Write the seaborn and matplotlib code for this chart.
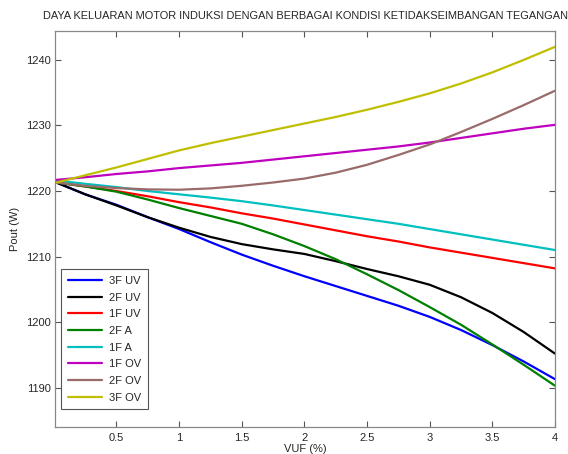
import numpy as np
import pandas as pd
import matplotlib
matplotlib.use("Agg")
import matplotlib.pyplot as plt
import seaborn as sns

# VUF (%) points
vuf = [0.02, 0.25, 0.5, 0.75, 1.0, 1.25, 1.5, 1.75, 2.0, 2.25, 2.5, 2.75, 3.0, 3.25, 3.5, 3.75, 4.0]

uv_3f = [1221.3, 1219.5, 1217.9, 1216.0, 1214.2, 1212.2, 1210.3, 1208.6, 1207.0, 1205.5, 1204.0, 1202.5, 1200.8, 1198.8, 1196.5, 1194.0, 1191.3]
uv_2f = [1221.3, 1219.5, 1217.8, 1216.0, 1214.4, 1213.0, 1211.9, 1211.1, 1210.4, 1209.3, 1208.1, 1207.0, 1205.7, 1203.8, 1201.4, 1198.5, 1195.2]
uv_1f = [1221.3, 1220.7, 1220.0, 1219.2, 1218.3, 1217.5, 1216.6, 1215.8, 1214.9, 1214.0, 1213.1, 1212.3, 1211.4, 1210.6, 1209.8, 1209.0, 1208.2]
a_2f = [1221.3, 1220.7, 1219.9, 1218.7, 1217.4, 1216.2, 1215.0, 1213.4, 1211.6, 1209.6, 1207.3, 1204.9, 1202.3, 1199.6, 1196.6, 1193.5, 1190.3]
a_1f = [1221.6, 1221.1, 1220.6, 1220.0, 1219.5, 1219.0, 1218.45, 1217.8, 1217.1, 1216.4, 1215.7, 1215.0, 1214.2, 1213.4, 1212.6, 1211.8, 1211.0]
ov_1f = [1221.7, 1222.1, 1222.6, 1223.0, 1223.5, 1223.9, 1224.3, 1224.8, 1225.3, 1225.8, 1226.3, 1226.8, 1227.4, 1228.1, 1228.8, 1229.5, 1230.1]
ov_2f = [1221.3, 1220.8, 1220.45, 1220.25, 1220.2, 1220.4, 1220.8, 1221.3, 1221.9, 1222.8, 1224.0, 1225.5, 1227.1, 1229.0, 1231.0, 1233.1, 1235.3]
ov_3f = [1221.3, 1222.4, 1223.6, 1224.9, 1226.2, 1227.3, 1228.3, 1229.3, 1230.3, 1231.3, 1232.4, 1233.6, 1234.9, 1236.4, 1238.1, 1240.0, 1242.0]

labels = ["3F UV", "2F UV", "1F UV", "2F A", "1F A", "1F OV", "2F OV", "3F OV"]
series = [uv_3f, uv_2f, uv_1f, a_2f, a_1f, ov_1f, ov_2f, ov_3f]
colors = ["#0000ff", "#000000", "#ff0000", "#008000", "#00bfbf", "#bf00bf", "#9a6b6b", "#bfbf00"]

rows = []
for lab, vals in zip(labels, series):
    for x, y in zip(vuf, vals):
        rows.append({"VUF": x, "Pout": y, "kondisi": lab})
df = pd.DataFrame(rows)

sns.set_style("ticks")
plt.rcParams["font.family"] = ["Liberation Sans", "DejaVu Sans"]

fig = plt.figure(figsize=(5.68, 4.54), dpi=100)
ax = fig.add_axes([0.097, 0.0595, 0.88, 0.872])

sns.lineplot(data=df, x="VUF", y="Pout", hue="kondisi", hue_order=labels,
             palette=colors, linewidth=1.6, ax=ax)

ax.set_xlim(0.01, 4)
ax.set_ylim(1184.0, 1244.4)
ax.set_xticks([0.5, 1, 1.5, 2, 2.5, 3, 3.5, 4])
ax.set_xticklabels(["0.5", "1", "1.5", "2", "2.5", "3", "3.5", "4"])
ax.set_yticks([1190, 1200, 1210, 1220, 1230, 1240])
ax.tick_params(direction="in", top=True, right=True, length=4, labelsize=8,
               color="#555555", pad=3)
ax.tick_params(axis="x", pad=4)
for s in ax.spines.values():
    s.set_color("#888888")
    s.set_linewidth(0.9)

ax.set_xlabel("VUF (%)", fontsize=8, labelpad=1)
ax.set_ylabel("Pout (W)", fontsize=8, labelpad=4)
ax.set_title("DAYA KELUARAN MOTOR INDUKSI DENGAN BERBAGAI KONDISI KETIDAKSEIMBANGAN TEGANGAN",
             fontsize=7.9, pad=9)

leg = ax.legend(loc="lower left", bbox_to_anchor=(0.012, 0.045), borderaxespad=0,
                fontsize=8, handlelength=3.1, labelspacing=0.6, frameon=True,
                fancybox=False, edgecolor="#555555", borderpad=0.6, handletextpad=0.6)
leg.get_frame().set_linewidth(0.8)
leg.get_frame().set_alpha(1)

fig.savefig("out.png", dpi=100)
